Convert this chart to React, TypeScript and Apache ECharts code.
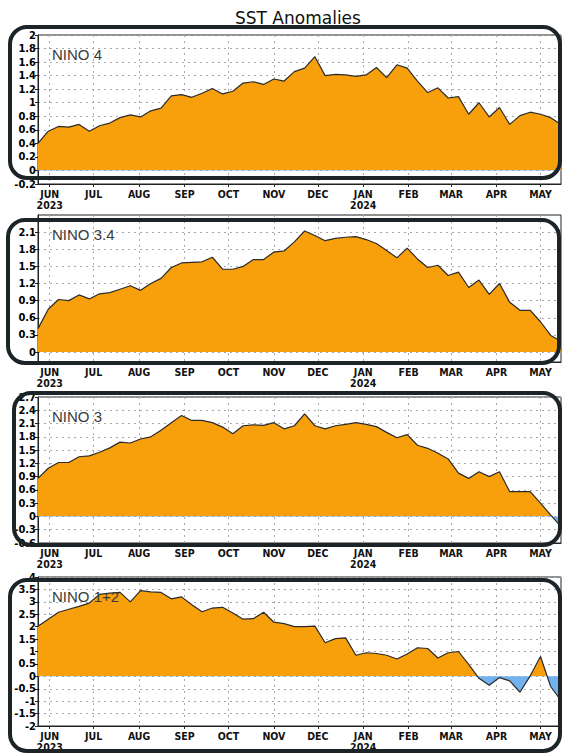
import React, { useEffect, useRef } from "react";
import * as echarts from "echarts";

// ---- data ----
const FIRST_WEEK = "2023-05-24"; // weekly values, centred on Wednesdays
const MONTH_TICKS = [
  "2023-06-01", "2023-07-01", "2023-08-01", "2023-09-01", "2023-10-01", "2023-11-01",
  "2023-12-01", "2024-01-01", "2024-02-01", "2024-03-01", "2024-04-01", "2024-05-01",
];
const MONTH_LABELS = ["JUN", "JUL", "AUG", "SEP", "OCT", "NOV", "DEC", "JAN", "FEB", "MAR", "APR", "MAY"];
const YEAR_LABELS = ["2023", "", "", "", "", "", "", "2024", "", "", "", ""];

const NINO4 = [
  0.40, 0.58, 0.65, 0.64, 0.68, 0.58, 0.66, 0.70, 0.78, 0.82, 0.79, 0.88, 0.92, 1.10, 1.12, 1.08,
  1.14, 1.21, 1.13, 1.17, 1.29, 1.31, 1.27, 1.35, 1.32, 1.46, 1.51, 1.68, 1.40, 1.42, 1.41, 1.39,
  1.41, 1.52, 1.37, 1.56, 1.51, 1.32, 1.15, 1.22, 1.07, 1.09, 0.83, 1.00, 0.79, 0.93, 0.68, 0.81,
  0.86, 0.83, 0.78, 0.68,
];
const NINO34 = [
  0.41, 0.75, 0.92, 0.90, 1.00, 0.93, 1.02, 1.04, 1.10, 1.16, 1.08, 1.20, 1.29, 1.48, 1.56, 1.57,
  1.58, 1.66, 1.45, 1.45, 1.50, 1.62, 1.62, 1.75, 1.77, 1.93, 2.12, 2.04, 1.95, 1.99, 2.01, 2.02,
  1.97, 1.90, 1.78, 1.65, 1.82, 1.63, 1.48, 1.52, 1.34, 1.40, 1.13, 1.26, 1.01, 1.20, 0.87, 0.73,
  0.73, 0.53, 0.29, 0.19,
];
const NINO3 = [
  0.86, 1.09, 1.22, 1.22, 1.35, 1.37, 1.45, 1.55, 1.68, 1.66, 1.75, 1.80, 1.95, 2.12, 2.28, 2.17,
  2.17, 2.12, 2.02, 1.87, 2.05, 2.07, 2.06, 2.12, 1.98, 2.05, 2.32, 2.05, 1.98, 2.05, 2.08, 2.12,
  2.08, 2.03, 1.90, 1.78, 1.85, 1.61, 1.54, 1.43, 1.30, 0.98, 0.86, 1.01, 0.90, 1.01, 0.56, 0.56,
  0.56, 0.30, 0.03, -0.23,
];
const NINO12 = [
  2.02, 2.30, 2.58, 2.70, 2.82, 2.95, 3.30, 3.35, 3.38, 3.00, 3.45, 3.40, 3.38, 3.12, 3.20, 2.88,
  2.60, 2.75, 2.78, 2.55, 2.30, 2.32, 2.58, 2.18, 2.12, 2.00, 2.00, 2.02, 1.35, 1.52, 1.55, 0.85,
  0.95, 0.92, 0.85, 0.70, 0.90, 1.15, 1.12, 0.74, 0.95, 1.00, 0.48, -0.08, -0.36, -0.05, -0.18, -0.64,
  0.02, 0.80, -0.42, -0.97,
];

const Y_TICKS_NINO4 = [-0.2, 0, 0.2, 0.4, 0.6, 0.8, 1, 1.2, 1.4, 1.6, 1.8, 2];
const Y_TICKS_NINO34 = [0, 0.3, 0.6, 0.9, 1.2, 1.5, 1.8, 2.1];
const Y_TICKS_NINO3 = [-0.6, -0.3, 0, 0.3, 0.6, 0.9, 1.2, 1.5, 1.8, 2.1, 2.4, 2.7];
const Y_TICKS_NINO12 = [-2, -1.5, -1, -0.5, 0, 0.5, 1, 1.5, 2, 2.5, 3, 3.5, 4];

// ---- styling / layout ----
const ORANGE = "#F7A00C";
const BLUE = "#72B2EE";
const DAY = 86400000;
const toUTC = (s: string) => Date.parse(s + "T00:00:00Z");
const AXIS_FONT = "'Liberation Sans Narrow', 'DejaVu Sans Condensed', Arial, sans-serif";

const PANELS = [
  { name: "NINO 4", data: NINO4, ticks: Y_TICKS_NINO4, min: -0.2, max: 2, top: 35, height: 149, box: [10, 27, 550, 151] },
  { name: "NINO 3.4", data: NINO34, ticks: Y_TICKS_NINO34, min: -0.175, max: 2.4, top: 215, height: 147, box: [8, 220, 551, 143] },
  { name: "NINO 3", data: NINO3, ticks: Y_TICKS_NINO3, min: -0.6, max: 2.7, top: 397, height: 146, box: [14, 393, 546, 152] },
  { name: "NINO 1+2", data: NINO12, ticks: Y_TICKS_NINO12, min: -2, max: 4, top: 577, height: 149, box: [10, 580, 550, 171] },
];

function buildOption() {
  const start = toUTC(FIRST_WEEK);
  // x positions are days since the first weekly value
  const weekDays = NINO4.map((_, i) => i * 7);
  const lastDay = weekDays[weekDays.length - 1];
  const monthDays = MONTH_TICKS.map((s) => Math.round((toUTC(s) - start) / DAY));

  const xFormatter = (v: number) => {
    const k = monthDays.findIndex((d) => Math.abs(d - v) < 0.5);
    if (k < 0) return "";
    return YEAR_LABELS[k] ? MONTH_LABELS[k] + "\n" + YEAR_LABELS[k] : MONTH_LABELS[k];
  };
  const yFormatter = (v: number) => String(Math.round(v * 100) / 100);

  const gridLine = { show: true, lineStyle: { color: "#a8a8a8", type: [2, 4], width: 1 } };

  return {
    animation: false,
    backgroundColor: "#ffffff",
    title: [
      {
        text: "SST Anomalies",
        left: 230,
        top: 4,
        textStyle: { fontFamily: "'DejaVu Sans', sans-serif", fontSize: 17, fontWeight: "normal", color: "#111" },
      },
      ...PANELS.map((p) => ({
        text: p.name,
        left: 47,
        top: p.top + 7,
        textStyle: { fontFamily: "'Liberation Sans', Arial, sans-serif", fontSize: 15, fontWeight: "normal", color: "#3a3a3a" },
      })),
    ],
    grid: PANELS.map((p) => ({
      left: 38,
      right: 2,
      top: p.top,
      height: p.height,
      show: true,
      borderColor: "#222",
      borderWidth: 1,
      backgroundColor: "transparent",
    })),
    xAxis: PANELS.map((_, i) => ({
      type: "value",
      gridIndex: i,
      min: 0,
      max: lastDay,
      axisLine: { show: true, onZero: false, lineStyle: { color: "#222", width: 1 } },
      axisTick: { show: true, customValues: monthDays, length: 3, lineStyle: { color: "#222" } },
      axisLabel: {
        customValues: monthDays,
        formatter: xFormatter,
        color: "#111",
        fontFamily: AXIS_FONT,
        fontWeight: "bold",
        fontSize: 10.5,
        lineHeight: 11,
        margin: 4,
        hideOverlap: false,
      },
      splitLine: gridLine,
    })),
    yAxis: PANELS.map((p, i) => ({
      type: "value",
      gridIndex: i,
      min: p.min,
      max: p.max,
      axisLine: { show: true, onZero: false, lineStyle: { color: "#222", width: 1 } },
      axisTick: { show: true, customValues: p.ticks, length: 3, lineStyle: { color: "#222" } },
      axisLabel: {
        customValues: p.ticks,
        formatter: yFormatter,
        color: "#000",
        fontFamily: AXIS_FONT,
        fontWeight: "bold",
        fontSize: 11,
        lineHeight: 11,
        margin: 2,
      },
      splitLine: gridLine,
    })),
    visualMap: {
      type: "piecewise",
      show: false,
      seriesIndex: [0, 1, 2, 3],
      dimension: 1,
      pieces: [
        { gte: -10, lt: 0, color: BLUE },
        { gte: 0, lte: 10, color: ORANGE },
      ],
    },
    series: PANELS.map((p, i) => ({
      type: "line",
      name: p.name,
      xAxisIndex: i,
      yAxisIndex: i,
      data: p.data.map((v, k) => [weekDays[k], v]),
      symbol: "none",
      showSymbol: false,
      lineStyle: { color: "#2b2b2b", width: 1.2 },
      areaStyle: { opacity: 1 },
      z: 2,
    })),
    graphic: PANELS.map((p) => ({
      type: "rect",
      shape: { x: p.box[0], y: p.box[1], width: p.box[2], height: p.box[3], r: 17 },
      style: { fill: "none", stroke: "#1d2428", lineWidth: 4 },
      z: 100,
      silent: true,
    })),
  };
}

export default function App() {
  const ref = useRef<HTMLDivElement>(null);
  useEffect(() => {
    if (!ref.current) return;
    const chart = echarts.init(ref.current, undefined, { renderer: "svg" });
    chart.setOption(buildOption() as any);
    return () => chart.dispose();
  }, []);
  return (
    <div
      ref={ref}
      style={{ position: "fixed", left: 0, top: 0, width: 563, height: 754, background: "#fff" }}
    />
  );
}
